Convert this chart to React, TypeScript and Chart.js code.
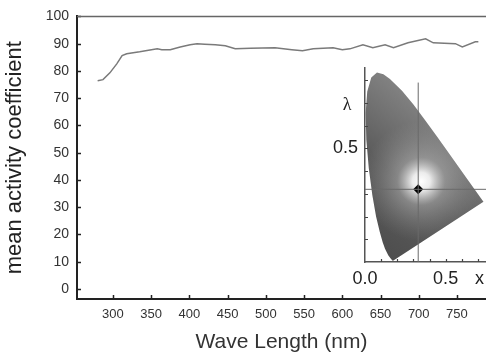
import React, { useEffect, useRef } from "react";
import { Chart, registerables } from "chart.js";

Chart.register(...registerables);

// ---------- main chart data ----------
const wavelengths = [280, 287, 296, 305, 312, 318, 335, 358, 364, 375, 388, 401, 410, 420, 434, 447, 460, 480, 512, 534, 548, 562, 588, 600, 610, 627, 640, 656, 667, 686, 709, 719, 748, 757, 774, 778];
const activity = [76.4, 76.8, 79.3, 82.6, 85.6, 86.3, 87.0, 88.1, 87.8, 87.8, 88.8, 89.6, 90.0, 89.8, 89.6, 89.2, 88.1, 88.3, 88.5, 87.8, 87.4, 88.1, 88.5, 87.8, 88.1, 89.6, 88.5, 89.6, 88.5, 90.3, 91.8, 90.3, 90.0, 88.8, 90.7, 90.7];
const xTicks = [300, 350, 400, 450, 500, 550, 600, 650, 700, 750];
const yTicks = [0, 10, 20, 30, 40, 50, 60, 70, 80, 90, 100];

// ---------- inset (CIE chromaticity) data ----------
const cieX = [0.1741, 0.1714, 0.1644, 0.1566, 0.1440, 0.1241, 0.1096, 0.0913, 0.0687, 0.0454, 0.0235, 0.0082, 0.0039, 0.0139, 0.0389, 0.0743, 0.1142, 0.1547, 0.2296, 0.3016, 0.3731, 0.4441, 0.5125, 0.5752, 0.6270, 0.6915, 0.7190, 0.7347];
const cieY = [0.0050, 0.0051, 0.0109, 0.0177, 0.0297, 0.0578, 0.0868, 0.1327, 0.2007, 0.2950, 0.4127, 0.5384, 0.6548, 0.7502, 0.8120, 0.8338, 0.8262, 0.8059, 0.7543, 0.6923, 0.6245, 0.5547, 0.4866, 0.4242, 0.3725, 0.3083, 0.2809, 0.2653];
const whitePoint = { x: 0.33, y: 0.32 };
const vLineY = [0, 0.79];
const hLineX = [0, 0.8];
const insetXTicks = [0, 0.5, 0.71];
const insetXLabels = ["0.0", "0.5", "x"];
const insetYTicks = [0.5];
const insetYLabels = ["0.5"];
const insetXMinor = [0.1, 0.2, 0.3, 0.4, 0.5, 0.6, 0.7];
const insetYMinor = [0.1, 0.2, 0.3, 0.4, 0.5, 0.6, 0.7, 0.8];

const SANS = "'Liberation Sans', Arial, sans-serif";
const NARROW = "'Liberation Sans Narrow', 'Liberation Sans', Arial, sans-serif";

const insideTicks = {
  id: "insideTicks",
  afterDraw(chart: any, _args: any, opts: any) {
    const { ctx, chartArea } = chart;
    const xs = chart.scales.x;
    const ys = chart.scales.y;
    ctx.save();
    ctx.strokeStyle = opts.color;
    ctx.lineWidth = opts.width;
    ctx.beginPath();
    for (const v of opts.x || []) {
      const px = Math.round(xs.getPixelForValue(v)) + 0.5;
      ctx.moveTo(px, chartArea.bottom);
      ctx.lineTo(px, chartArea.bottom - opts.len);
    }
    for (const v of opts.y || []) {
      const py = Math.round(ys.getPixelForValue(v)) + 0.5;
      ctx.moveTo(chartArea.left, py);
      ctx.lineTo(chartArea.left + opts.len, py);
    }
    ctx.stroke();
    if (opts.top) {
      ctx.strokeStyle = opts.top.color;
      ctx.lineWidth = opts.top.width;
      ctx.beginPath();
      ctx.moveTo(chartArea.left, chartArea.top);
      ctx.lineTo(chartArea.right, chartArea.top);
      ctx.stroke();
    }
    ctx.restore();
  },
};

const locusFill = {
  id: "locusFill",
  beforeDatasetsDraw(chart: any) {
    const { ctx, chartArea } = chart;
    const meta = chart.getDatasetMeta(0);
    const pts = meta.data;
    if (!pts.length) return;
    const xs = chart.scales.x;
    const ys = chart.scales.y;
    const cx = xs.getPixelForValue(whitePoint.x);
    const cy = ys.getPixelForValue(whitePoint.y);
    ctx.save();
    ctx.beginPath();
    ctx.rect(chartArea.left, chartArea.top - 10, chartArea.right - chartArea.left + 20, chartArea.bottom - chartArea.top + 10);
    ctx.clip();
    ctx.beginPath();
    pts.forEach((p: any, i: number) => {
      if (i === 0) ctx.moveTo(p.x, p.y);
      else ctx.lineTo(p.x, p.y);
    });
    ctx.closePath();
    // base: darker toward lower-left, lighter toward upper-right
    const lin = ctx.createLinearGradient(chartArea.left, chartArea.bottom, chartArea.left + 110, chartArea.top + 60);
    lin.addColorStop(0, "#4a4a4a");
    lin.addColorStop(0.5, "#5c5c5c");
    lin.addColorStop(1, "#8a8a8a");
    ctx.fillStyle = lin;
    ctx.fill();
    // white glow around the white point
    const g = ctx.createRadialGradient(cx + 3, cy - 8, 0, cx + 3, cy - 8, 60);
    g.addColorStop(0, "rgba(255,255,255,1)");
    g.addColorStop(0.15, "rgba(250,250,250,0.9)");
    g.addColorStop(0.4, "rgba(200,200,200,0.4)");
    g.addColorStop(1, "rgba(160,160,160,0)");
    ctx.fillStyle = g;
    ctx.fill();
    ctx.restore();
  },
  afterDraw(chart: any) {
    const { ctx, chartArea } = chart;
    const ys = chart.scales.y;
    ctx.save();
    ctx.font = "18px 'Liberation Serif', 'DejaVu Serif', serif";
    ctx.fillStyle = "#222";
    ctx.textAlign = "center";
    ctx.textBaseline = "middle";
    ctx.fillText("λ", chartArea.left - 18, ys.getPixelForValue(0.69));
    ctx.restore();
  },
};

export default function App() {
  const mainRef = useRef<HTMLCanvasElement>(null);
  const insetRef = useRef<HTMLCanvasElement>(null);

  useEffect(() => {
    document.body.style.margin = "0";
    const main = new Chart(mainRef.current!, {
      type: "line",
      data: {
        datasets: [
          {
            data: wavelengths.map((w, i) => ({ x: w, y: activity[i] })),
            borderColor: "#7a7a7a",
            borderWidth: 1.5,
            pointRadius: 0,
            tension: 0,
            fill: false,
          },
        ],
      },
      options: {
        responsive: false,
        animation: false,
        layout: { padding: { top: 16, left: 0, right: 0, bottom: 0 } },
        plugins: {
          legend: { display: false },
          tooltip: { enabled: false },
          insideTicks: { x: xTicks, y: yTicks, len: 4, color: "#222", width: 1.5, top: { color: "#666", width: 1.5 } },
        } as any,
        scales: {
          x: {
            type: "linear",
            min: 253,
            max: 788,
            afterBuildTicks: (s: any) => {
              s.ticks = xTicks.map((v) => ({ value: v }));
            },
            afterFit: (s: any) => {
              s.height = 56;
            },
            grid: { display: false, drawTicks: false },
            border: { display: true, color: "#222", width: 2 },
            ticks: {
              autoSkip: false,
              maxRotation: 0,
              padding: 8,
              color: "#333",
              font: { family: NARROW, size: 13 },
              callback: (v: any) => String(v),
            },
            title: {
              display: true,
              text: "Wave Length (nm)",
              color: "#333",
              font: { family: SANS, size: 21 },
              padding: { top: 0, bottom: 0 },
            },
          },
          y: {
            type: "linear",
            min: -3.66,
            max: 100,
            afterBuildTicks: (s: any) => {
              s.ticks = yTicks.map((v) => ({ value: v }));
            },
            afterFit: (s: any) => {
              s.width = 77;
            },
            grid: { display: false, drawTicks: false },
            border: { display: true, color: "#222", width: 2 },
            ticks: {
              autoSkip: false,
              padding: 8,
              color: "#333",
              font: { family: SANS, size: 14 },
              callback: (v: any) => String(v),
            },
            title: {
              display: true,
              text: "mean activity coefficient",
              color: "#222",
              font: { family: SANS, size: 22 },
              padding: { top: 2, bottom: 0 },
            },
          },
        },
      },
      plugins: [insideTicks],
    });

    const inset = new Chart(insetRef.current!, {
      type: "scatter",
      data: {
        datasets: [
          {
            data: cieX.map((x, i) => ({ x, y: cieY[i] })),
            pointRadius: 0,
            showLine: false,
            borderWidth: 0,
          },
          {
            data: vLineY.map((y) => ({ x: whitePoint.x, y })),
            showLine: true,
            borderColor: "#6a6a6a",
            borderWidth: 1,
            pointRadius: 0,
          },
          {
            data: hLineX.map((x) => ({ x, y: whitePoint.y })),
            showLine: true,
            borderColor: "#6a6a6a",
            borderWidth: 1,
            pointRadius: 0,
          },
          {
            data: [{ x: whitePoint.x, y: whitePoint.y }],
            pointStyle: "rectRot",
            pointRadius: 5,
            backgroundColor: "#000",
            borderColor: "#000",
            borderWidth: 0,
          },
        ],
      },
      options: {
        responsive: false,
        animation: false,
        layout: { padding: { top: 12, left: 0, right: 0, bottom: 0 } },
        plugins: {
          legend: { display: false },
          tooltip: { enabled: false },
          insideTicks: { x: insetXMinor, y: insetYMinor, len: 3, color: "#444", width: 1.2 },
        } as any,
        scales: {
          x: {
            type: "linear",
            min: 0,
            max: 0.8,
            afterBuildTicks: (s: any) => {
              s.ticks = insetXTicks.map((v) => ({ value: v }));
            },
            afterFit: (s: any) => {
              s.height = 33;
            },
            grid: { display: false, drawTicks: false },
            border: { display: true, color: "#555", width: 1.5 },
            ticks: {
              autoSkip: false,
              maxRotation: 0,
              padding: 6,
              color: "#222",
              font: { family: SANS, size: 18 },
              callback: (_v: any, i: number) => insetXLabels[i],
            },
          },
          y: {
            type: "linear",
            min: 0,
            max: 0.855,
            afterBuildTicks: (s: any) => {
              s.ticks = insetYTicks.map((v) => ({ value: v }));
            },
            afterFit: (s: any) => {
              s.width = 35;
            },
            grid: { display: false, drawTicks: false },
            border: { display: true, color: "#555", width: 1.5 },
            ticks: {
              autoSkip: false,
              padding: 7,
              color: "#222",
              font: { family: SANS, size: 18 },
              callback: (_v: any, i: number) => insetYLabels[i],
            },
          },
        },
      },
      plugins: [insideTicks, locusFill],
    });

    return () => {
      main.destroy();
      inset.destroy();
    };
  }, []);

  return (
    <div style={{ position: "relative", width: 486, height: 355, overflow: "hidden", background: "#fff" }}>
      <canvas ref={mainRef} width={486} height={355} style={{ position: "absolute", left: 0, top: 0 }} />
      <canvas ref={insetRef} width={169} height={245} style={{ position: "absolute", left: 330, top: 50 }} />
    </div>
  );
}
